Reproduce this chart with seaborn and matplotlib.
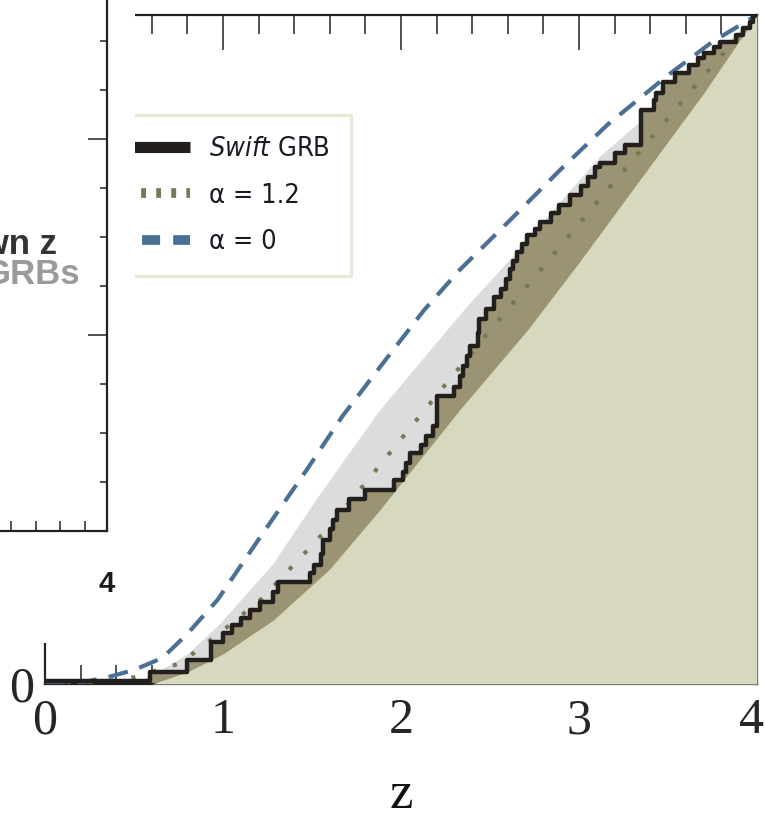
import matplotlib
matplotlib.use("Agg")
import matplotlib.pyplot as plt
import matplotlib.transforms as mtransforms
from matplotlib.lines import Line2D
from matplotlib.patches import Rectangle
from matplotlib.ticker import MultipleLocator, FuncFormatter
import seaborn as sns

# Cumulative redshift distribution of Swift GRBs (value after each jump)
swift_z = [0.00, 0.59, 0.80, 0.93, 1.00, 1.05, 1.10, 1.15, 1.21, 1.28, 1.31,
           1.49, 1.51, 1.55, 1.56, 1.60, 1.62, 1.64, 1.71, 1.80, 1.96, 2.01,
           2.03, 2.05, 2.11, 2.14, 2.18, 2.20, 2.30, 2.33, 2.35, 2.37, 2.39,
           2.43, 2.44, 2.48, 2.52, 2.56, 2.59, 2.61, 2.63, 2.65, 2.68, 2.71,
           2.75, 2.78, 2.84, 2.89, 2.95, 3.01, 3.05, 3.09, 3.12, 3.20, 3.26,
           3.35, 3.42, 3.43, 3.47, 3.54, 3.62, 3.67, 3.70, 3.76, 3.79, 3.88,
           3.92, 3.96, 3.98, 4.00]
swift_F = [0.005, 0.018, 0.036, 0.063, 0.076, 0.088, 0.099, 0.111, 0.123, 0.138, 0.152,
           0.166, 0.178, 0.195, 0.215, 0.232, 0.245, 0.260, 0.276, 0.290, 0.305, 0.317,
           0.330, 0.345, 0.357, 0.370, 0.385, 0.430, 0.444, 0.460, 0.475, 0.490, 0.505,
           0.525, 0.545, 0.560, 0.578, 0.590, 0.605, 0.620, 0.632, 0.645, 0.658, 0.671,
           0.680, 0.690, 0.704, 0.716, 0.731, 0.745, 0.758, 0.773, 0.779, 0.794, 0.806,
           0.858, 0.873, 0.883, 0.900, 0.913, 0.925, 0.935, 0.943, 0.952, 0.960, 0.970,
           0.980, 0.990, 1.000, 1.000]

# Model expectation, alpha = 1.2
a12_z = [0.0, 0.3, 0.5, 0.76, 1.0, 1.22, 1.58, 1.79, 2.0, 2.26, 2.54, 2.8, 3.0, 3.3, 3.72, 4.0]
a12_F = [0.0, 0.002, 0.01, 0.031, 0.08, 0.128, 0.23, 0.297, 0.366, 0.451, 0.541, 0.624,
         0.688, 0.783, 0.915, 1.0]

# Model expectation, alpha = 0
a0_z = [0.0, 0.2, 0.35, 0.5, 0.66, 0.8, 0.97, 1.21, 1.47, 1.67, 1.9, 2.13, 2.33, 2.6,
        2.9, 3.16, 3.5, 3.75, 4.0]
a0_F = [0.0, 0.002, 0.01, 0.021, 0.039, 0.075, 0.126, 0.22, 0.32, 0.40, 0.48, 0.559,
        0.619, 0.69, 0.77, 0.836, 0.91, 0.96, 1.0]

# Upper edge of the grey band
band_z = [0.5, 0.65, 0.8, 0.98, 1.28, 1.545, 1.88, 2.37, 2.61, 3.12, 3.36, 3.7, 4.0]
band_F = [0.0, 0.021, 0.045, 0.09, 0.18, 0.285, 0.41, 0.565, 0.635, 0.79, 0.845, 0.93, 1.0]

# Lower edge (light shaded region)
low_z = [0.6, 0.8, 1.0, 1.28, 1.6, 1.88, 2.33, 2.71, 3.0, 3.34, 3.7, 4.0]
low_F = [0.0, 0.018, 0.045, 0.095, 0.172, 0.26, 0.41, 0.529, 0.63, 0.753, 0.883, 1.0]

x_ticks = [0, 1, 2, 3, 4]
legend_labels = [r"$\mathit{Swift}$ GRB", "α = 1.2", "α = 0"]

C_LIGHT = "#d8d8be"
C_DARK = "#9b9474"
C_GREY = "#dcdcdc"
C_DASH = "#4a7096"
C_DOT = "#77775a"
C_STEP = "#231f1c"
C_AX = "#222222"

sns.set_style("ticks")
plt.rcParams["font.family"] = ["Liberation Serif", "DejaVu Serif"]
plt.rcParams["mathtext.fontset"] = "custom"
plt.rcParams["mathtext.rm"] = "DejaVu Sans:stretch=condensed"
plt.rcParams["mathtext.it"] = "DejaVu Sans:italic:stretch=condensed"

W, H = 765, 818
fig = plt.figure(figsize=(W / 100, H / 100), dpi=100)


def fx(px):
    return px / W


def fy(py):
    return 1 - py / H


ax = fig.add_axes([fx(45), fy(684), fx(757) - fx(45), fy(15) - fy(684)], zorder=0)
ax.set_xlim(0, 4)
ax.set_ylim(0, 1)

# shaded regions
ax.fill_between(band_z, 0, band_F, color=C_GREY, lw=0, zorder=1)
ax.fill_between(swift_z[1:], 0, swift_F[1:], step="post", color=C_DARK, lw=0, zorder=2)
ax.fill_between(low_z, 0, low_F, color=C_LIGHT, lw=0, zorder=3)

# curves
sns.lineplot(x=a12_z, y=a12_F, ax=ax, color=C_DOT, lw=3.0, errorbar=None,
             linestyle=(0, (1.0, 4.2)), dash_capstyle="butt", zorder=4, legend=False)
sns.lineplot(x=a0_z, y=a0_F, ax=ax, color=C_DASH, lw=3.0, errorbar=None,
             linestyle=(0, (4.8, 2.9)), zorder=4, legend=False)
sns.lineplot(x=swift_z, y=swift_F, ax=ax, color=C_STEP, lw=3.2, errorbar=None,
             drawstyle="steps-post", zorder=5, legend=False)

# axes styling
for s in ax.spines.values():
    s.set_linewidth(1.6)
    s.set_color(C_AX)
    s.set_visible(True)
ax.xaxis.set_major_locator(MultipleLocator(1))
ax.xaxis.set_minor_locator(MultipleLocator(0.2))
ax.yaxis.set_major_locator(MultipleLocator(0.5))
ax.yaxis.set_minor_locator(MultipleLocator(0.1))
ax.set_xticks(x_ticks)
ax.set_xticklabels([str(t) for t in x_ticks])
ax.yaxis.set_major_formatter(FuncFormatter(lambda v, p: "0" if v == 0 else ""))
ax.tick_params(axis="x", which="both", direction="in", top=True, bottom=True,
               color=C_AX, width=1.1)
ax.tick_params(axis="x", which="major", length=25, labelsize=36, pad=10)
ax.tick_params(axis="x", which="minor", length=13.5)
ax.tick_params(axis="y", which="both", direction="in", left=False, right=True,
               labelleft=True, color=C_AX, width=1.1)
ax.tick_params(axis="y", which="major", length=16, labelsize=36, pad=8)
ax.tick_params(axis="y", which="minor", length=7)
ax.set_ylabel("")

# keep the last tick label inside the canvas, flush with the right edge
fig.canvas.draw()
last = ax.get_xticklabels()[-1]
last.set_horizontalalignment("right")
last.set_transform(last.get_transform()
                   + mtransforms.ScaledTranslation(7 / 100, 0, fig.dpi_scale_trans))

# axis label
fig.text(fx(401), fy(808), "z", ha="center", va="baseline", fontsize=38,
         family="Liberation Serif", color="#111111")

# legend
handles = [
    Line2D([], [], color=C_STEP, lw=8, solid_capstyle="butt"),
    Line2D([], [], color=C_DOT, lw=7, linestyle=(0, (0.5, 1.05)), dash_capstyle="butt"),
    Line2D([], [], color=C_DASH, lw=7, linestyle=(0, (1.85, 1.35)), dash_capstyle="butt"),
]
leg = ax.legend(handles, legend_labels, loc="upper left",
                bbox_to_anchor=(fx(90), fy(115)), bbox_transform=fig.transFigure,
                borderaxespad=0, frameon=True, fancybox=False, framealpha=1,
                facecolor="white", edgecolor="#e8e8d6", borderpad=0.78,
                handlelength=2.9, handletextpad=0.72, labelspacing=0.76,
                prop={"family": ["DejaVu Sans"], "stretch": "condensed", "size": 19.5})
leg.get_frame().set_linewidth(2.2)
for t in leg.get_texts():
    t.set_color("#1a1a24")

# white cover over the upper-left corner
fig.add_artist(Rectangle((0, fy(643)), fx(135), 1 - fy(643), transform=fig.transFigure,
                         facecolor="white", edgecolor="none", zorder=1))

# neighbouring panel frame
ax2 = fig.add_axes([fx(-93), fy(531), fx(200), (531 + 100) / H], zorder=2)
ax2.set_xlim(-93, 107)
ax2.set_ylim(531, -100)
ax2.set_facecolor("white")
for side in ("top", "left"):
    ax2.spines[side].set_visible(False)
for side in ("right", "bottom"):
    ax2.spines[side].set_linewidth(1.6)
    ax2.spines[side].set_color(C_AX)
ax2.xaxis.set_major_locator(MultipleLocator(24.6, offset=11))
ax2.yaxis.set_major_locator(MultipleLocator(196, offset=139))
ax2.yaxis.set_minor_locator(MultipleLocator(49, offset=41))
ax2.tick_params(axis="x", which="major", direction="in", length=7, width=1.1,
                bottom=True, top=False, labelbottom=False, color=C_AX)
ax2.tick_params(axis="y", which="both", direction="in", left=False, right=True,
                labelleft=False, labelright=False, width=1.1, color=C_AX)
ax2.tick_params(axis="y", which="major", length=13.7)
ax2.tick_params(axis="y", which="minor", length=5)

fig.text(fx(57), fy(254), "known z", ha="right", va="baseline", fontsize=25,
         family="Liberation Sans", weight="bold", color="#333333", zorder=4)
fig.text(fx(80), fy(284), "GRBs", ha="right", va="baseline", fontsize=25,
         family="Liberation Sans", weight="bold", color="#9a9a9a", zorder=4)
fig.text(fx(107), fy(592), "4", ha="center", va="baseline", fontsize=21,
         family="Liberation Sans", weight="bold", color="#1a1a1a", zorder=4)

fig.savefig("out.png", dpi=100)
